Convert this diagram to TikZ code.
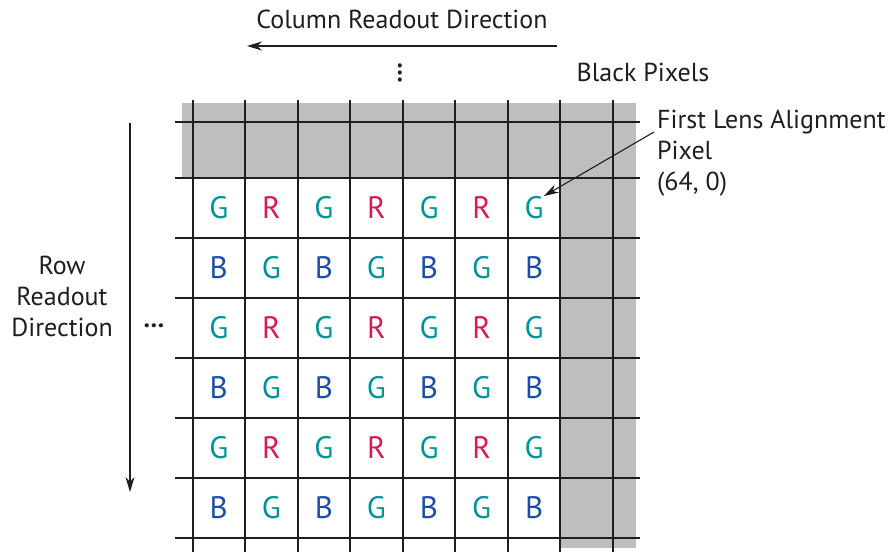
\documentclass[tikz,border=0pt]{standalone}
\usepackage{fontspec}
\setmainfont{PT Sans}
\usetikzlibrary{arrows.meta}
\definecolor{gridgray}{RGB}{189,190,192}
\definecolor{cG}{RGB}{0,148,150}
\definecolor{cR}{RGB}{222,24,78}
\definecolor{cB}{RGB}{28,78,165}
\definecolor{ink}{RGB}{30,30,30}
\begin{document}
\begin{tikzpicture}[x=1pt,y=-1pt,
  gridline/.style={line width=2pt, draw=ink},
  lbl/.style={font=\fontsize{26}{31}\selectfont, text=ink, inner sep=0pt},
  px/.style={font=\fontsize{31}{34}\selectfont, inner sep=0pt},
  arr/.style={line width=1.1pt, draw=ink, -{Stealth[length=15pt,width=9pt]}}]
\useasboundingbox (0,0) rectangle (888,552);
% gray black-pixel regions
\fill[gridgray] (181.7,103) rectangle (636,177.5);
\fill[gridgray] (559,177.5) rectangle (636,548);
% grid
\foreach \i in {0,...,8} \draw[gridline] ({192.5+52.56*\i},100) -- ({192.5+52.56*\i},552);
\draw[gridline] (175,122) -- (640,122);
\foreach \j in {0,...,6} \draw[gridline] (175,{177.5+60.08*\j}) -- (640,{177.5+60.08*\j});
% pixels
\foreach \r in {0,...,5}{
  \foreach \c in {0,...,6}{
    \pgfmathtruncatemacro{\rp}{mod(\r,2)}
    \pgfmathtruncatemacro{\cp}{mod(\c,2)}
    \ifnum\rp=0
      \ifnum\cp=0 \def\lt{G}\def\lc{cG}\else \def\lt{R}\def\lc{cR}\fi
    \else
      \ifnum\cp=0 \def\lt{B}\def\lc{cB}\else \def\lt{G}\def\lc{cG}\fi
    \fi
    \node[px, text=\lc] (px-\r-\c) at ({192.5+52.56*(\c+0.5)},{177.5+60.08*(\r+0.5)}) {\lt};
  }
}
% labels
\node[lbl] (coltext) at (402,19) {Column Readout Direction};
\coordinate (colS) at (557,46);
\coordinate (colE) at (247,46);
\draw[arr] (colS) -- (colE);
\node[lbl, font=\fontsize{26}{31}\selectfont\bfseries] (vdots) at (400,73) [rotate=90] {…};
\node[lbl] (black) at (643,72) {Black Pixels};
\node[lbl, anchor=west, align=left] (lens) at (657,153) {First Lens Alignment\\Pixel\\(64, 0)};
\coordinate (lensS) at (654,132);
\draw[arr] (lensS) -- (px-0-6.north east);
\node[lbl, align=center] (rowtext) at (62,296) {Row\\Readout\\Direction};
\coordinate (rowS) at (130,123);
\coordinate (rowE) at (130,492);
\draw[arr] (rowS) -- (rowE);
\node[lbl, font=\fontsize{26}{31}\selectfont\bfseries] (hdots) at (154,326) {…};
\end{tikzpicture}
\end{document}
